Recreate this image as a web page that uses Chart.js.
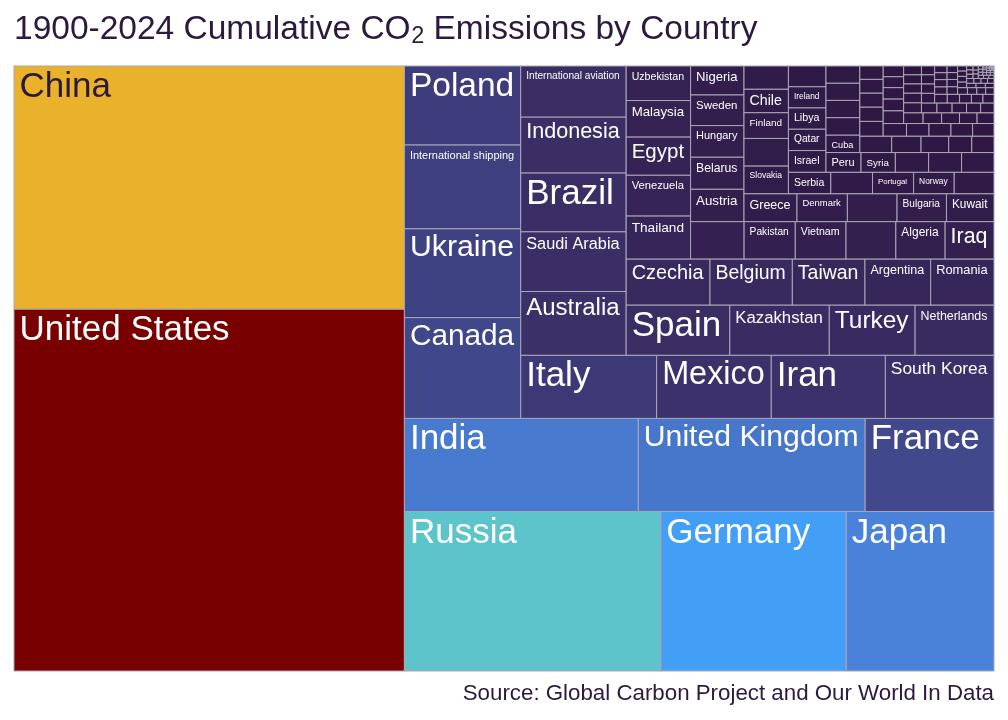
<!DOCTYPE html>
<html>
<head>
<meta charset="utf-8">
<script src="https://cdn.jsdelivr.net/npm/chart.js@4.4.1/dist/chart.umd.min.js"></script>
<style>
  html, body { margin: 0; padding: 0; background: #ffffff; }
  canvas { display: block; }
</style>
</head>
<body>
<canvas id="co2Chart" width="1008" height="720"></canvas>
<script>
// cumulative CO2 1900-2024, Gt
var countries = [
  "United States", "China", "Russia", "Germany", "Japan", "India", "United Kingdom", "France",
  "Canada", "Ukraine", "International shipping", "Poland",
  "Italy", "Mexico", "Iran", "South Korea",
  "Australia", "Saudi Arabia", "Brazil", "Indonesia", "International aviation",
  "Spain", "Kazakhstan", "Turkey", "Netherlands",
  "Czechia", "Belgium", "Taiwan", "Argentina", "Romania",
  "Thailand", "Venezuela", "Egypt", "Malaysia", "Uzbekistan",
  "United Arab Emirates", "Pakistan", "Vietnam", "Turkmenistan", "Algeria", "Iraq",
  "Austria", "Belarus", "Hungary", "Sweden", "Nigeria",
  "Greece", "Denmark", "Bangladesh", "Bulgaria", "Kuwait",
  "Slovakia", "Philippines", "Finland", "Chile", "Switzerland",
  "Serbia", "Colombia", "Portugal", "Norway", "Azerbaijan",
  "Israel", "Qatar", "Libya", "Ireland", "Singapore",
  "Peru", "Syria", "Hong Kong", "New Zealand", "Morocco",
  "Cuba", "Trinidad and Tobago", "Lithuania", "Croatia", "Estonia",
  "Ecuador", "Bosnia and Herzegovina", "Slovenia", "Mongolia", "Jordan",
  "Tunisia", "Oman", "Latvia", "Bahrain", "Kyrgyzstan",
  "Sri Lanka", "Georgia", "Luxembourg", "Angola", "Myanmar", "Moldova",
  "Dominican Republic", "Zimbabwe", "Armenia", "Kenya", "Lebanon",
  "Ghana", "Guatemala", "North Macedonia", "Tajikistan", "Panama",
  "Cyprus", "Bolivia", "Jamaica", "Uruguay", "Sudan", "Yemen",
  "Costa Rica", "Iceland", "Brunei", "Albania", "Ethiopia", "Cameroon",
  "Senegal", "Honduras", "El Salvador", "Tanzania", "Paraguay", "Cambodia", "Nepal",
  "Afghanistan", "Macao", "Malta", "Mozambique", "Zambia", "Botswana", "Cote d'Ivoire",
  "Nicaragua", "Gabon", "Congo", "Papua New Guinea", "Mauritius", "Namibia", "Uganda", "Montenegro",
  "Bahamas", "Madagascar", "Laos", "Haiti", "Benin", "Guinea", "Mali", "Niger",
  "Suriname", "Guyana", "Fiji", "Togo", "Burkina Faso", "Malawi", "Mauritania", "Barbados",
  "Rwanda", "Chad", "Sierra Leone",
  "Liberia", "Eswatini", "Belize", "Djibouti",
  "Bhutan", "Maldives", "Somalia", "Eritrea", "Burundi",
  "Lesotho", "Gambia", "Seychelles", "Cape Verde", "Samoa", "Comoros", "Tonga", "Vanuatu", "Kiribati", "Tuvalu"
];

var emissions = [
  410.0, 275.3, 118.7, 85.8, 68.4, 63.2, 61.3, 34.8,
  34.0, 30.0, 28.3, 26.6,
  24.9, 21.0, 20.9, 19.9,
  19.5, 18.3, 18.0, 17.1, 15.6,
  15.1, 14.5, 12.5, 11.5,
  11.2, 11.0, 9.7, 8.78, 8.46,
  8.05, 7.62, 7.14, 6.80, 6.45,
  5.80, 5.55, 5.50, 5.40, 5.34, 5.30,
  5.03, 4.97, 4.88, 4.77, 4.46,
  4.29, 4.08, 4.02, 4.00, 3.85,
  3.58, 3.55, 3.32, 3.03, 2.98,
  2.64, 2.60, 2.56, 2.53, 2.48,
  2.36, 2.34, 2.32, 2.30, 2.25,
  2.00, 1.96, 1.90, 1.88, 1.85,
  1.72, 1.71, 1.70, 1.69, 1.68,
  1.52, 1.40, 1.32, 1.10, 1.06,
  1.00, 0.97, 0.95, 0.93, 0.90,
  0.85, 0.82, 0.80, 0.79, 0.78, 0.76,
  0.70, 0.67, 0.65, 0.63, 0.61,
  0.58, 0.56, 0.55, 0.53, 0.52,
  0.50, 0.48, 0.47, 0.45, 0.44, 0.43,
  0.41, 0.40, 0.38, 0.37, 0.36, 0.35,
  0.33, 0.32, 0.31, 0.30, 0.29, 0.28, 0.27,
  0.26, 0.25, 0.24, 0.23, 0.22, 0.21, 0.20,
  0.19, 0.18, 0.17, 0.16, 0.15, 0.15, 0.14, 0.13,
  0.12, 0.12, 0.11, 0.10, 0.10, 0.09, 0.09, 0.08,
  0.08, 0.07, 0.07, 0.06, 0.06, 0.05, 0.05, 0.05,
  0.04, 0.04, 0.04,
  0.03, 0.03, 0.03, 0.03,
  0.02, 0.02, 0.02, 0.02, 0.02,
  0.015, 0.012, 0.01, 0.01, 0.008, 0.006, 0.005, 0.004, 0.003, 0.002
];

var titleParts = ["1900-2024 Cumulative CO", "2", " Emissions by Country"];
var sourceNote = "Source: Global Carbon Project and Our World In Data";

// colour ramp by value
var colorStops = [
  [0, [45, 22, 64]],
  [2, [47, 26, 70]],
  [5, [51, 31, 78]],
  [8, [54, 37, 88]],
  [12, [57, 43, 97]],
  [18, [59, 46, 102]],
  [22, [60, 50, 108]],
  [26, [61, 60, 122]],
  [30, [62, 65, 130]],
  [35, [65, 72, 140]],
  [62, [71, 120, 205]],
  [67, [74, 128, 214]],
  [86, [67, 158, 245]],
  [119, [94, 196, 204]],
  [275, [234, 177, 43]],
  [410, [120, 0, 0]]
];

function colorFor(v) {
  for (var i = 1; i < colorStops.length; i++) {
    var a = colorStops[i - 1], b = colorStops[i];
    if (v <= b[0]) {
      var t = (v - a[0]) / (b[0] - a[0]);
      return a[1].map(function (ch, k) { return Math.round(ch + (b[1][k] - ch) * t); });
    }
  }
  return colorStops[colorStops.length - 1][1];
}

var fontFamily = '"Liberation Sans", Arial, Helvetica, sans-serif';
var inkColor = "#2b1a3e";

// squarified layout in the unit square, starting bottom-left
function worstRatio(row, side) {
  var s = 0, mx = 0, mn = Infinity;
  row.forEach(function (a) { s += a; mx = Math.max(mx, a); mn = Math.min(mn, a); });
  var s2 = s * s, w2 = side * side;
  return Math.max(w2 * mx / s2, s2 / (w2 * mn));
}

function squarify(values) {
  var total = values.reduce(function (a, b) { return a + b; }, 0);
  var areas = values.map(function (v) { return v / total; });
  var x = 0, y = 0, w = 1, h = 1, i = 0, out = [];
  while (i < areas.length) {
    var vertical = w >= h;
    var side = vertical ? h : w;
    var row = [areas[i]], j = i + 1;
    var worst = worstRatio(row, side);
    while (j < areas.length) {
      var next = worstRatio(row.concat([areas[j]]), side);
      if (next > worst) break;
      row.push(areas[j]);
      worst = next;
      j++;
    }
    var sum = row.reduce(function (a, b) { return a + b; }, 0);
    var thick = sum / side, pos = vertical ? y : x;
    row.forEach(function (a) {
      var len = a / thick;
      if (vertical) out.push({ x0: x, x1: x + thick, y0: pos, y1: pos + len });
      else out.push({ x0: pos, x1: pos + len, y0: y, y1: y + thick });
      pos += len;
    });
    if (vertical) { x += thick; w -= thick; } else { y += thick; h -= thick; }
    i = j;
  }
  return out;
}

var cells = squarify(emissions).map(function (r, i) {
  return {
    x: (r.x0 + r.x1) / 2, y: (r.y0 + r.y1) / 2,
    x0: r.x0, x1: r.x1, y0: r.y0, y1: r.y1,
    label: countries[i], value: emissions[i]
  };
});

class TreeCell extends Chart.Element {
  draw(ctx) {
    var rgb = this.rgb;
    ctx.save();
    ctx.fillStyle = "rgb(" + rgb.join(",") + ")";
    ctx.fillRect(this.x, this.y, this.width, this.height);
    ctx.strokeStyle = "#aaa6b6";
    ctx.lineWidth = 1;
    ctx.strokeRect(this.x, this.y, this.width, this.height);

    ctx.font = "100px " + fontFamily;
    var em = ctx.measureText(this.label).width / 100;
    var size = Math.min(35, (this.width - 12) / em, (this.height - 2) * 0.8);
    if (size >= 7.5) {
      var bright = 0.299 * rgb[0] + 0.587 * rgb[1] + 0.114 * rgb[2];
      ctx.fillStyle = bright > 170 ? inkColor : "#ffffff";
      ctx.font = size.toFixed(2) + "px " + fontFamily;
      ctx.textBaseline = "alphabetic";
      ctx.textAlign = "left";
      // cap top sits ~6px under the cell's top edge
      ctx.fillText(this.label, this.x + 5.5, this.y + 6 + 0.716 * size);
    }
    ctx.restore();
  }
  inRange() { return false; }
  inXRange() { return false; }
  inYRange() { return false; }
  getCenterPoint() { return { x: this.x + this.width / 2, y: this.y + this.height / 2 }; }
}
TreeCell.id = "treecell";
TreeCell.defaults = {};

class SquareTreeController extends Chart.DatasetController {
  update(mode) {
    var meta = this._cachedMeta;
    this.updateElements(meta.data, 0, meta.data.length, mode);
  }
  updateElements(rects, start, count, mode) {
    var xs = this._cachedMeta.xScale, ys = this._cachedMeta.yScale;
    var data = this.getDataset().data;
    for (var i = start; i < start + count; i++) {
      var c = data[i];
      var left = xs.getPixelForValue(c.x0), right = xs.getPixelForValue(c.x1);
      var top = ys.getPixelForValue(c.y1), bottom = ys.getPixelForValue(c.y0);
      Object.assign(rects[i], {
        x: left, y: top, width: right - left, height: bottom - top,
        label: c.label, rgb: colorFor(c.value)
      });
    }
  }
  draw() {
    var ctx = this.chart.ctx;
    this._cachedMeta.data.forEach(function (r) { r.draw(ctx); });
  }
}
SquareTreeController.id = "squaretree";
SquareTreeController.defaults = { datasetElementType: false, dataElementType: "treecell" };
SquareTreeController.overrides = {
  scales: { x: { type: "linear", display: false }, y: { type: "linear", display: false } }
};

Chart.register(SquareTreeController, TreeCell);

var headerFooter = {
  id: "headerFooter",
  afterDraw: function (chart) {
    var ctx = chart.ctx;
    ctx.save();
    ctx.fillStyle = inkColor;
    ctx.textBaseline = "alphabetic";
    ctx.textAlign = "left";
    var x = 14;
    ctx.font = "33.5px " + fontFamily;
    ctx.fillText(titleParts[0], x, 38.5);
    x += ctx.measureText(titleParts[0]).width + 0.5;
    ctx.font = "23.5px " + fontFamily;
    ctx.fillText(titleParts[1], x, 43);
    x += ctx.measureText(titleParts[1]).width;
    ctx.font = "33.5px " + fontFamily;
    ctx.fillText(titleParts[2], x, 38.5);

    ctx.font = "22.3px " + fontFamily;
    ctx.textAlign = "right";
    ctx.fillText(sourceNote, 994, 700);
    ctx.restore();
  }
};

var co2Canvas = document.getElementById("co2Chart");

var treeChart = new Chart(co2Canvas, {
  type: "squaretree",
  data: {
    labels: countries,
    datasets: [{ label: "Cumulative CO2 (Gt)", data: cells }]
  },
  options: {
    responsive: false,
    animation: false,
    events: [],
    layout: { padding: { left: 14, right: 14, top: 66, bottom: 49 } },
    scales: {
      x: { type: "linear", min: 0, max: 1, display: false },
      y: { type: "linear", min: 0, max: 1, display: false }
    },
    plugins: {
      legend: { display: false },
      tooltip: { enabled: false },
      title: { display: false }
    }
  },
  plugins: [headerFooter]
});
</script>
</body>
</html>
